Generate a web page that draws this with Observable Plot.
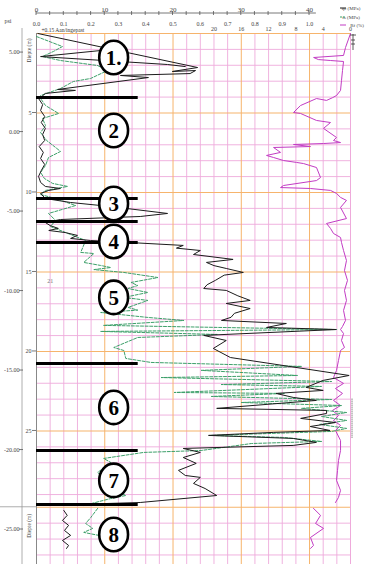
<!DOCTYPE html>
<html><head><meta charset="utf-8">
<script src="https://cdn.jsdelivr.net/npm/d3@7"></script>
<script src="https://cdn.jsdelivr.net/npm/@observablehq/plot@0.6"></script>
<style>
html,body{margin:0;padding:0;background:#fff;}
svg{display:block;}
</style></head><body><div id="chart"></div>
<script>
// ---- axis / tick labels ----
const qcTicks = [0, 10, 20, 30, 40];                 // MPa (top row)
const fsTicks = [0, 0.1, 0.2, 0.3, 0.4, 0.5, 0.6, 0.7, 0.8, 0.9, 1.0]; // MPa (2nd row)
const rfTicks = [20, 16, 12, 8, 4, 0];               // % (3rd row, reversed)
const depthTicks = [5, 10, 15, 20, 25];              // m
const levelTicks = [5, 0, -5, -10, -15, -20, -25];   // m NAP
const surfaceLevel = 6.2;
const levelLabel = "+0.15 Aan/ingepast";
const legendNames = ["qc (MPa)", "fs (MPa)", "Rf (%)"];

// ---- zones ----
const zoneLabels = ["1.", "2", "3", "4", "5", "6", "7", "8"];
const zoneCenters = [1.51, 6.10, 10.69, 13.08, 16.60, 23.52, 28.11, 31.51];
const zoneBreaks = [4.03, 10.38, 11.82, 13.14, 20.75, 26.23, 29.62];
const panelBreak = 29.8;

// ---- qc (MPa) trace: [depth m, qc] ----
const qcLoop = [[1.01,10.8],[1.45,0.6],[1.95,19.2],[2.08,21.8]];
const qcMain = [
 [0.00,0.2],[2.14,23.6],[2.39,19.9],[2.33,23.3],[2.52,22.5],[2.64,12.3],[2.77,16.4],[3.52,3.1],[3.58,5.7],[3.77,1.3],[4.03,0.6],
 [4.09,0.3],[4.47,0.9],[4.84,0.6],[5.22,1.2],[5.60,0.7],[5.97,1.3],[6.35,0.9],[6.73,1.2],[7.11,0.4],[7.48,1.0],[7.86,0.6],[8.24,1.2],[8.62,0.7],[8.99,0.3],[9.37,0.6],[9.62,1.3],[9.75,3.5],[9.87,1.8],[10.06,0.6],
 [10.38,1.3],[10.63,5.0],[10.88,10.8],[11.32,19.2],[11.51,15.2],[11.70,3.5],[11.89,1.3],
 [12.08,2.0],[12.26,3.2],[12.39,1.8],[12.52,4.2],[12.70,6.0],[12.89,5.0],[13.02,7.9],[13.14,13.3],[13.33,21.5],
 [13.50,20.5],[13.65,24.0],[13.90,23.0],[14.21,28.8],[14.40,24.9],[14.60,26.0],[14.78,27.8],[15.03,30.3],[15.20,27.5],[15.53,26.2],[15.80,25.0],[16.04,24.5],[16.16,27.8],[16.50,29.5],[16.79,31.3],[16.98,27.8],[17.30,31.3],[17.60,29.0],[17.85,28.5],[18.05,27.1],[18.24,36.6],[18.49,33.7],[18.62,43.9],[18.99,24.5],[19.31,27.8],[19.81,25.9],
 [20.38,28.4],[21.51,45.8],[21.82,42.0],[22.26,39.5],[22.45,42.0],[22.64,35.1],[22.89,37.6],[23.08,41.0],[23.58,26.4],[23.71,42.5],[23.90,42.5],[24.21,38.7],[24.47,43.8],[24.72,40.1],[24.97,43.0],[25.09,34.7],[25.28,25.2],[25.47,37.6],[25.72,41.0],[25.91,37.6],[26.10,21.5],
 [26.35,24.0],[26.67,21.5],[27.04,23.4],[27.48,20.8],[27.80,21.8],[27.92,24.0],[28.30,23.0],[28.62,24.7],[29.06,26.4],[29.50,15.2],[29.69,0.6]
];
const qcLower = [[30.00,4.0],[30.31,4.5],[30.63,3.8],[30.94,4.7],[31.26,4.1],[31.57,5.0],[31.89,3.8],[32.20,4.7],[32.39,4.4]];

// ---- fs (MPa) trace ----
const fsMain = [
 [0.19,0.00],[0.82,0.095],[1.13,0.062],[1.45,0.022],[1.70,0.088],[2.01,0.223],[2.33,0.26],[2.83,0.198],[3.02,0.135],[3.46,0.088],[3.90,0.015],
 [4.09,0.015],[4.53,0.033],[5.03,0.081],[5.35,0.022],[5.79,0.033],[6.23,0.015],[6.73,0.037],[7.17,0.07],[7.42,0.088],[7.80,0.044],[8.30,0.033],[8.74,0.015],[9.12,0.029],[9.43,0.059],[9.62,0.114],[9.87,0.033],[10.13,0.015],
 [10.38,0.07],[10.82,0.143],[11.32,0.044],[11.76,0.07],[12.14,0.051],[12.52,0.107],[12.77,0.143],[13.02,0.18],
 [13.77,0.162],[13.84,0.21],[14.40,0.173],[14.59,0.235],[14.72,0.272],[14.85,0.21],[15.03,0.32],[15.35,0.445],[15.66,0.346],[15.85,0.371],[16.04,0.335],[16.29,0.408],[16.60,0.32],[16.79,0.408],[17.23,0.335],[17.40,0.371],[17.55,0.235],[17.86,0.408],[18.05,0.54],[18.36,0.246],[18.62,1.10],[18.74,0.235],[18.93,0.662],[19.12,0.371],[19.75,0.283],[19.94,0.32],
 [20.44,0.327],[20.69,0.419],[20.94,0.971],[21.19,0.603],[21.51,0.956],[21.64,0.456],[21.89,1.081],[22.08,0.676],[22.20,1.044],[22.58,0.504],[22.64,0.908],[22.83,0.64],[23.02,1.081],[23.21,0.75],[23.40,1.118],[23.58,0.971],[23.84,1.136],[24.09,1.044],[24.34,1.136],[24.59,1.037],[24.84,1.136],[25.03,1.081],[25.28,0.64],[25.41,0.908],[25.66,1.044],[25.79,0.787],[25.97,0.713],[26.23,0.603],
 [26.35,0.393],[26.73,0.246],[26.98,0.272],[27.61,0.224],[28.11,0.254],[28.74,0.29],[29.06,0.327],[29.25,0.272],[29.69,0.173]
];
const fsLower = [[29.87,0.224],[30.44,0.199],[30.82,0.18],[31.13,0.206],[31.38,0.173],[31.57,0.228]];

// ---- Rf (%) trace ----
const rfMain = [
 [0.00,0.0],[0.88,0.73],[1.38,1.02],[1.51,5.4],[1.64,4.7],[1.70,2.9],[1.76,1.02],[2.33,1.17],[2.96,1.32],[3.58,1.46],[3.90,2.05],[4.03,2.6],[4.21,3.51],[4.09,4.98],[4.53,7.32],[4.97,8.35],[5.03,7.32],[5.47,4.98],[5.60,2.93],[5.97,3.95],[6.54,2.05],[6.73,2.49],[6.86,1.46],[6.92,3.95],[6.98,8.35],[7.11,5.86],[7.17,11.27],[7.48,10.25],[7.67,12.30],[7.80,11.27],[7.99,9.81],[8.11,7.91],[8.18,6.88],[8.43,4.98],[9.06,4.39],[9.25,4.98],[9.56,9.81],[9.69,10.25],[9.75,5.86],[9.87,2.93],[10.06,2.05],[10.31,1.46],
 [10.50,0.59],[10.94,1.46],[11.64,0.59],[11.95,3.51],[12.26,2.93],[12.58,2.49],[12.83,1.46],[13.14,1.32],[13.65,1.02],[14.28,0.59],[14.91,0.88],[15.53,0.44],[16.16,0.88],[16.79,0.59],[17.42,1.02],[18.05,0.73],[18.43,1.17],[18.62,1.46],[18.87,1.02],[19.31,1.32],[19.75,0.88],
 [19.94,1.46],[20.57,1.76],[21.19,2.05],[21.64,2.49],[22.01,1.02],[22.33,2.20],[22.64,1.17],[23.08,2.49],[23.40,1.46],[23.71,2.64],[24.03,1.76],[24.34,2.49],[24.65,1.46],[24.97,2.20],[25.60,1.46],[26.23,1.46],[26.86,1.76],[27.48,1.90],[28.11,2.05],[28.74,1.46],[29.18,1.76],[29.50,2.2]
];
const rfLower = [[29.87,5.42],[30.31,4.39],[30.82,5.12],[31.13,3.95],[31.70,5.86],[32.20,5.42],[32.39,5.86]];

// ---- build tables ----
const toRows = (arr, seg) => arr.map(([d, v]) => ({d, v, seg}));
const qcRows = [...toRows(qcLoop, "a"), ...toRows(qcMain, "b"), ...toRows(qcLower, "c")];
const fsRows = [...toRows(fsMain, "a"), ...toRows(fsLower, "b")];
const rfRows = [...toRows(rfMain, "a"), ...toRows(rfLower, "b")];

const qcMax = 46;          // frame right edge in qc units
const fsToQc = 40;         // fs 1.0 MPa aligned with qc 40 MPa
const pink = "#eeaadb", orange = "#f6b46c";

const gridXMinor = d3.range(0, qcMax + 1, 2).filter(v => v % 10);
const gridXMajor = qcTicks;
const gridYMinor = [...d3.range(1, 30).filter(v => v % 5), panelBreak + 1, panelBreak + 2, panelBreak + 3];
const gridYMajor = [0, 5, 10, 15, 20, 25, panelBreak];

const ellipse = {
  draw(ctx, size) {
    const r = Math.sqrt(size / Math.PI), rx = r * 0.93, ry = r * 1.08, k = 0.5523;
    ctx.moveTo(rx, 0);
    ctx.bezierCurveTo(rx, ry * k, rx * k, ry, 0, ry);
    ctx.bezierCurveTo(-rx * k, ry, -rx, ry * k, -rx, 0);
    ctx.bezierCurveTo(-rx, -ry * k, -rx * k, -ry, 0, -ry);
    ctx.bezierCurveTo(rx * k, -ry, rx, -ry * k, rx, 0);
    ctx.closePath();
  }
};
const zoneX = 11.3;

const serif = "'Liberation Serif', 'DejaVu Serif', serif";

const plot = Plot.plot({
  width: 366, height: 564,
  marginTop: 33, marginBottom: 0, marginLeft: 36, marginRight: 16,
  x: {domain: [0, qcMax], axis: null},
  y: {domain: [0, 33.4], reverse: true, axis: null},
  style: {fontFamily: serif, background: "#fff", overflow: "visible"},
  marks: [
    Plot.ruleX(gridXMinor, {stroke: pink, strokeWidth: 0.9}),
    Plot.ruleY(gridYMinor, {stroke: pink, strokeWidth: 0.9}),
    Plot.ruleX(gridXMajor.filter(v => v > 0), {stroke: orange, strokeWidth: 1}),
    Plot.ruleY(gridYMajor, {stroke: orange, strokeWidth: 1.1}),
    Plot.ruleX([qcMax], {stroke: pink, strokeWidth: 1}),
    Plot.ruleX([0], {stroke: "#888", strokeWidth: 1}),
    // traces
    Plot.line(rfRows, {x: d => qcMax - d.v, y: "d", z: "seg", stroke: "#c23cc4", strokeWidth: 1}),
    Plot.line(fsRows, {x: d => d.v * fsToQc, y: "d", z: "seg", stroke: "#3da06a", strokeWidth: 1, strokeDasharray: "3,1.6"}),
    Plot.line(qcRows, {x: "v", y: "d", z: "seg", stroke: "#1c1c1c", strokeWidth: 1}),
    // zone boundaries
    Plot.ruleY(zoneBreaks, {x1: 0, x2: 14.9, stroke: "#000", strokeWidth: 3}),
    Plot.dot(zoneCenters, {x: zoneX, y: d => d, r: 15.5, symbol: ellipse, fill: "#fff", stroke: "#000", strokeWidth: 2.6}),
    Plot.text(zoneLabels, {x: zoneX, y: (d, i) => zoneCenters[i], text: d => d, fontSize: 21, fontWeight: "bold", fill: "#000", dy: 1}),
    // top tick labels
    Plot.text(qcTicks, {x: d => d, frameAnchor: "top", dy: -26, text: d => String(d), fontSize: 7, fill: "#444"}),
    Plot.text(fsTicks, {x: d => d * fsToQc, frameAnchor: "top", dy: -12, text: d => d.toFixed(1), fontSize: 6, fill: "#444"}),
    Plot.text(rfTicks, {x: d => qcMax - d, frameAnchor: "top", dy: -7, text: d => String(d), fontSize: 6, fill: "#444"}),
    Plot.text([levelLabel], {frameAnchor: "top-left", dx: 5, dy: -5, textAnchor: "start", fontSize: 5.5, fill: "#333"}),
    // left labels
    Plot.text(depthTicks, {y: d => d, frameAnchor: "left", dx: -5, textAnchor: "end", text: d => String(d), fontSize: 6, fill: "#444"}),
    Plot.text(levelTicks, {y: d => surfaceLevel - d, frameAnchor: "left", dx: -17, textAnchor: "end", text: d => d.toFixed(2), fontSize: 6, fill: "#444"}),
    Plot.text(["21"], {x: 2.0, y: 15.6, fontSize: 6, fill: "#777"})
  ]
});
document.getElementById("chart").appendChild(plot);

// ---- decorations using the plot's own scales ----
const X = plot.scale("x"), Y = plot.scale("y");
const svg = d3.select(plot);
const deco = svg.append("g").attr("stroke", "#555").attr("stroke-width", 0.8).attr("fill", "none");
const axisY = 13;
deco.append("line").attr("x1", X.apply(0)).attr("x2", X.apply(41)).attr("y1", axisY).attr("y2", axisY);
d3.range(0, 42, 2).forEach(t => {
  deco.append("line").attr("x1", X.apply(t)).attr("x2", X.apply(t)).attr("y1", axisY - 2).attr("y2", axisY + 2);
});
// outer left axis line and ticks
deco.append("line").attr("x1", 22).attr("x2", 22).attr("y1", 28).attr("y2", 564).attr("stroke", "#999");
levelTicks.forEach(e => {
  const y = Y.apply(surfaceLevel - e);
  deco.append("line").attr("x1", 19).attr("x2", 23).attr("y1", y).attr("y2", y);
});
depthTicks.forEach(dv => {
  const y = Y.apply(dv);
  deco.append("line").attr("x1", 32).attr("x2", 36).attr("y1", y).attr("y2", y);
});
deco.append("line").attr("x1", 0).attr("x2", X.apply(0)).attr("y1", Y.apply(panelBreak)).attr("y2", Y.apply(panelBreak)).attr("stroke", "#999");
// dotted marker in zone 6
deco.append("line").attr("x1", X.apply(qcMax) + 2).attr("x2", X.apply(qcMax) + 2)
  .attr("y1", Y.apply(23.0)).attr("y2", Y.apply(25.5)).attr("stroke", "#222").attr("stroke-dasharray", "1,1");
// water level marker
const wx = X.apply(qcMax) + 3;
deco.append("line").attr("x1", wx).attr("x2", wx).attr("y1", 34).attr("y2", 50).attr("stroke", "#333");
[[35, 3], [40, 2], [44, 2]].forEach(([yy, w]) => deco.append("line").attr("x1", wx - w).attr("x2", wx + w).attr("y1", yy).attr("y2", yy).attr("stroke", "#333"));

// labels: psi, Diepte (m)
const txt = svg.append("g").attr("font-family", serif).attr("fill", "#444");
txt.append("text").attr("x", 8).attr("y", 23).attr("font-size", 6).text("psi");
[Y.apply(1.1), Y.apply(31.0)].forEach(cy => {
  txt.append("text").attr("transform", `translate(31,${cy}) rotate(-90)`).attr("text-anchor", "middle")
    .attr("font-size", 5.5).text("Diepte (m)");
});
// legend
const legendColors = ["#1c1c1c", "#3da06a", "#c23cc4"];
const legendY = [8, 17, 25];
const legendTextX = [351, 351, 357];
legendNames.forEach((name, i) => {
  svg.append("line").attr("x1", 340).attr("x2", 346).attr("y1", legendY[i]).attr("y2", legendY[i])
    .attr("stroke", legendColors[i]).attr("stroke-width", 1).attr("stroke-dasharray", i === 1 ? "2,1" : null);
  txt.append("text").attr("x", legendTextX[i]).attr("y", legendY[i] + 2).attr("font-size", 5).text(name);
});
</script>
</body></html>
